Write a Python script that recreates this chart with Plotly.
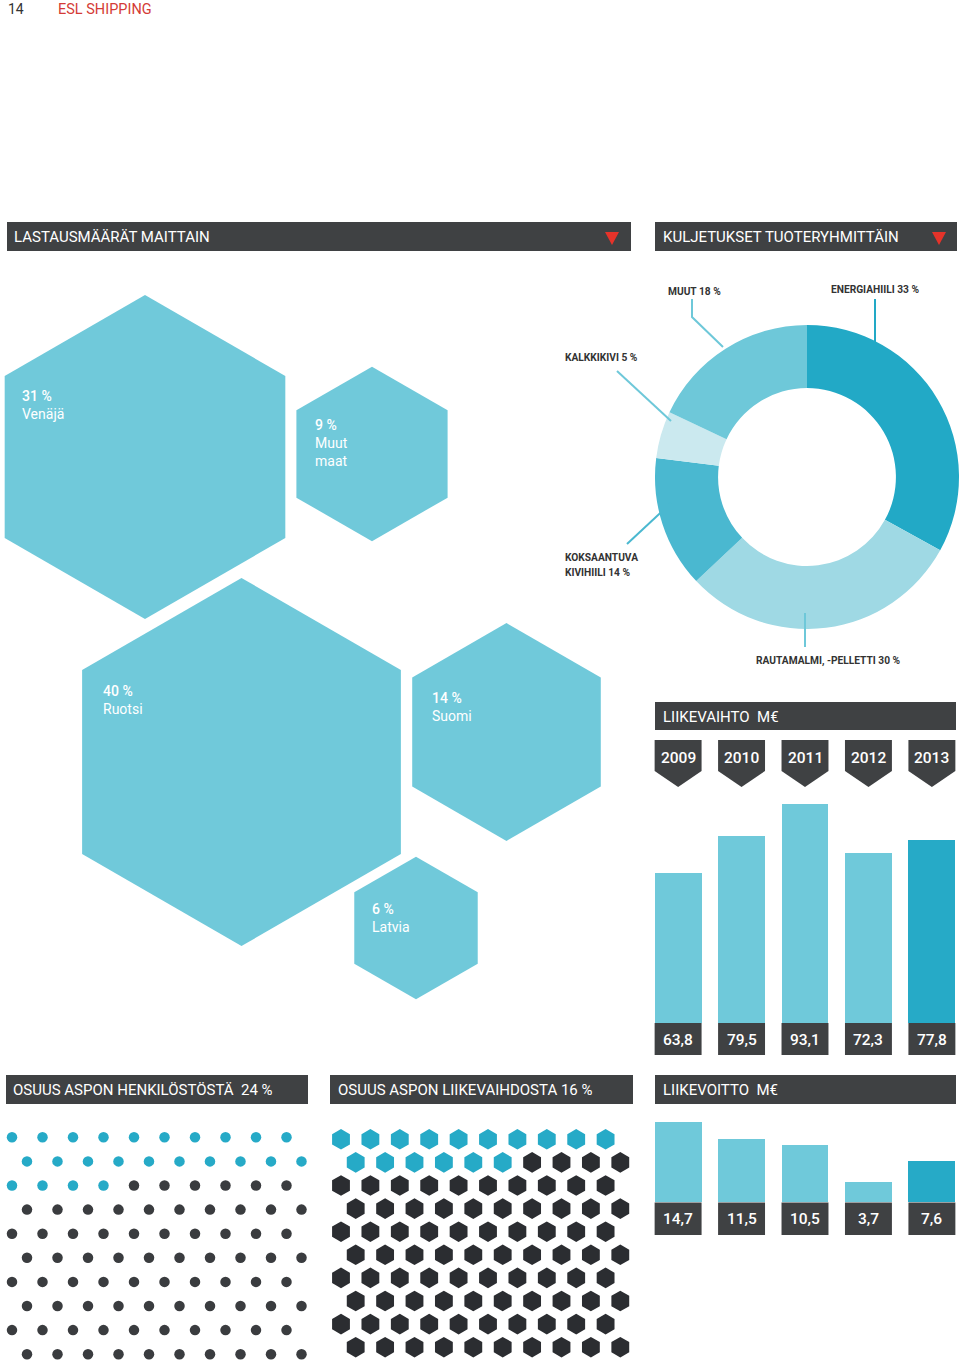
import math
import plotly.graph_objects as go

PAGE_W, PAGE_H = 960, 1366
FW, FH = PAGE_W, PAGE_H

# ---------------- data ----------------
countries = ["Venäjä", "Muut<br>maat", "Ruotsi", "Suomi", "Latvia"]
country_share = [31, 9, 40, 14, 6]

product_groups = ["ENERGIAHIILI", "RAUTAMALMI, -PELLETTI", "KOKSAANTUVA<br>KIVIHIILI", "KALKKIKIVI", "MUUT"]
product_share = [33, 30, 14, 5, 18]

years = ["2009", "2010", "2011", "2012", "2013"]
revenue = [63.8, 79.5, 93.1, 72.3, 77.8]
operating_profit = [14.7, 11.5, 10.5, 3.7, 7.6]

staff_share = 24
revenue_share = 16

# ---------------- styles / layout ----------------
DARK = "#3f4143"
HEX_BLUE = "#70c9da"
BLUE = "#26aac7"
LIGHT = "#6fc9da"
RED = "#e5332a"
FONT = "Roboto, 'Open Sans', sans-serif"

pie_colors = ["#22a9c6", "#9fd9e4", "#4ab8d0", "#cbe9ef", "#6ec8d9"]
bar_colors = [LIGHT, LIGHT, LIGHT, LIGHT, BLUE]

hex_centers = [(145, 457), (372, 454), (241.5, 762), (506.5, 732), (416, 928)]
hex_label_pos = [(20, 386), (313, 415), (101, 681), (430, 688), (370, 899)]
HEX_K = 58.2  # px of marker size per sqrt(percent)


def px(p):
    return p / FW


def py(p):
    return 1 - p / FH


fig = go.Figure()
shapes = []
annotations = []

# ---- country hexagons (area proportional to share) ----
fig.add_trace(go.Scatter(
    x=[c[0] for c in hex_centers], y=[c[1] for c in hex_centers],
    mode="markers", xaxis="x", yaxis="y",
    marker=dict(symbol="hexagon", size=[HEX_K * math.sqrt(v) for v in country_share],
                color=HEX_BLUE, opacity=1, line=dict(width=0)),
    hoverinfo="skip", showlegend=False))
for (lx, ly), name, v in zip(hex_label_pos, countries, country_share):
    annotations.append(dict(x=lx, y=ly, xref="x", yref="y", xanchor="left", yanchor="top",
                            align="left", showarrow=False,
                            text=f"<span style='font-weight:500'>{v} %</span><br>{name}",
                            font=dict(family=FONT, size=14, color="white")))

# ---- donut ----
cx, cy, R = 807, 477, 152
fig.add_trace(go.Pie(
    values=product_share, labels=product_groups, sort=False, direction="clockwise",
    rotation=0, hole=0.585, textinfo="none", hoverinfo="skip", showlegend=False,
    marker=dict(colors=pie_colors, line=dict(width=0)),
    domain=dict(x=[px(cx - R), min(1, px(cx + R))], y=[py(cy + R), py(cy - R)])))

donut_label_pos = [(829, 289), (754, 661), (563, 565), (563, 357), (666, 291)]
for (lx, ly), name, v in zip(donut_label_pos, product_groups, product_share):
    lines = f"{name} {v} %".split("<br>")
    n = len(lines)
    for i, ln in enumerate(lines):
        annotations.append(dict(x=lx, y=ly + (i - (n - 1) / 2) * 15, xref="x", yref="y",
                                xanchor="left", yanchor="middle", showarrow=False, text=ln,
                                font=dict(family=FONT, size=10.2, color="#333333", weight="bold")))

leaders = [
    ("M 875 299 L 875 360", pie_colors[0]),
    ("M 805 613 L 805 647", pie_colors[4]),
    ("M 627 544 L 671 503", pie_colors[2]),
    ("M 617 371 L 671 421", pie_colors[4]),
    ("M 692 299 L 692 317 L 723 347", pie_colors[4]),
]
for p, col in leaders:
    shapes.append(dict(type="path", path=p, xref="x", yref="y",
                       line=dict(color=col, width=2), layer="above"))

# ---- header bars ----
headers = [
    ((7, 222, 631, 251), "LASTAUSMÄÄRÄT MAITTAIN", 12, 612),
    ((655, 222, 957, 251), "KULJETUKSET TUOTERYHMITTÄIN", 661, 939),
    ((655, 702, 956, 730), "LIIKEVAIHTO\u00a0 M€", 661, None),
    ((6, 1075, 308, 1104), f"OSUUS ASPON HENKILÖSTÖSTÄ\u00a0 {staff_share} %", 11, None),
    ((330, 1075, 633, 1104), f"OSUUS ASPON LIIKEVAIHDOSTA {revenue_share} %", 336, None),
    ((655, 1075, 956, 1104), "LIIKEVOITTO\u00a0 M€", 661, None),
]
for (x0, y0, x1, y1), txt, tx, tri in headers:
    shapes.append(dict(type="rect", x0=x0, x1=x1, y0=y0, y1=y1, xref="x", yref="y",
                       fillcolor=DARK, line=dict(width=0), layer="below"))
    annotations.append(dict(x=tx, y=(y0 + y1) / 2 + 0.5, xref="x", yref="y", xanchor="left",
                            yanchor="middle", showarrow=False, text=txt,
                            font=dict(family=FONT, size=15, color="white")))
    if tri:
        shapes.append(dict(type="path", xref="x", yref="y",
                           path=f"M {tri-7} 232 L {tri+7} 232 L {tri} 245 Z",
                           fillcolor=RED, line=dict(width=0), layer="above"))

# ---- page header ----
annotations.append(dict(x=6, y=9, xref="x", yref="y", xanchor="left", yanchor="middle",
                        showarrow=False, text="14",
                        font=dict(family=FONT, size=14, color="#333333")))
annotations.append(dict(x=56, y=9, xref="x", yref="y", xanchor="left", yanchor="middle",
                        showarrow=False, text="ESL SHIPPING",
                        font=dict(family=FONT, size=14.5, color="#d43b36")))

# ---- bar charts ----
xs = list(range(len(years)))
BW = 0.74
fig.add_trace(go.Bar(x=xs, y=revenue, width=BW, marker=dict(color=bar_colors, line=dict(width=0)),
                     xaxis="x2", yaxis="y2", hoverinfo="skip", showlegend=False))
fig.add_trace(go.Bar(x=xs, y=operating_profit, width=BW,
                     marker=dict(color=bar_colors, line=dict(width=0)),
                     xaxis="x3", yaxis="y3", hoverinfo="skip", showlegend=False))

h = BW / 2
for i, (yr, rv, op) in enumerate(zip(years, revenue, operating_profit)):
    shapes.append(dict(type="path", xref="x2", yref="paper",
                       path=(f"M {i-h} {py(740)} L {i+h} {py(740)} L {i+h} {py(771)} "
                             f"L {i} {py(787)} L {i-h} {py(771)} Z"),
                       fillcolor=DARK, line=dict(width=0), layer="above"))
    annotations.append(dict(x=i, y=py(757.5), xref="x2", yref="paper", showarrow=False,
                            text=yr, xanchor="center", yanchor="middle",
                            font=dict(family=FONT, size=15.5, color="white", weight=500)))
    shapes.append(dict(type="rect", xref="x2", yref="paper", x0=i - h, x1=i + h,
                       y0=py(1055), y1=py(1023), fillcolor=DARK, line=dict(width=0),
                       layer="above"))
    annotations.append(dict(x=i, y=py(1039.5), xref="x2", yref="paper", showarrow=False,
                            text=f"{rv:.1f}".replace(".", ","), xanchor="center", yanchor="middle",
                            font=dict(family=FONT, size=15.5, color="white", weight=500)))
    shapes.append(dict(type="rect", xref="x3", yref="paper", x0=i - h, x1=i + h,
                       y0=py(1235), y1=py(1202.5), fillcolor=DARK, line=dict(width=0),
                       layer="above"))
    annotations.append(dict(x=i, y=py(1219), xref="x3", yref="paper", showarrow=False,
                            text=f"{op:.1f}".replace(".", ","), xanchor="center", yanchor="middle",
                            font=dict(family=FONT, size=15.5, color="white", weight=500)))

# ---- share patterns ----
cx_, cy_, cc_ = [], [], []
for r in range(10):
    for c in range(10):
        cx_.append(12 + c * 30.5 + (r % 2) * 15)
        cy_.append(1137.3 + r * 24.1)
        cc_.append(BLUE if r * 10 + c < staff_share else "#3a3c3f")
fig.add_trace(go.Scatter(x=cx_, y=cy_, mode="markers", xaxis="x", yaxis="y",
                         marker=dict(symbol="circle", size=10.5, color=cc_, opacity=1,
                                     line=dict(width=0)),
                         hoverinfo="skip", showlegend=False))

hx_, hy_, hc_ = [], [], []
for r in range(10):
    for c in range(10):
        hx_.append(341 + c * 29.4 + (r % 2) * 14.7)
        hy_.append(1139.3 + r * 23.1)
        hc_.append(BLUE if r * 10 + c < revenue_share else "#2b2d31")
fig.add_trace(go.Scatter(x=hx_, y=hy_, mode="markers", xaxis="x", yaxis="y",
                         marker=dict(symbol="hexagon", size=20.6, color=hc_, opacity=1,
                                     line=dict(width=0)),
                         hoverinfo="skip", showlegend=False))

# ---------------- layout ----------------
hidden = dict(visible=False, fixedrange=True, showgrid=False, zeroline=False)
bar_x_dom = [px(654), px(956)]
REV_MAX = 100.0
PROF_MAX = 16.0
fig.update_layout(
    width=FW, height=FH, margin=dict(l=0, r=0, t=0, b=0), autosize=False,
    paper_bgcolor="white", plot_bgcolor="rgba(0,0,0,0)",
    font=dict(family=FONT),
    xaxis=dict(range=[0, PAGE_W], domain=[0, 1], **hidden),
    yaxis=dict(range=[PAGE_H, 0], domain=[0, 1], **hidden),
    xaxis2=dict(range=[-0.38, 4.38], domain=bar_x_dom, anchor="y2", **hidden),
    yaxis2=dict(range=[0, REV_MAX], domain=[py(1023), py(1023 - REV_MAX * 2.352)],
                anchor="x2", **hidden),
    xaxis3=dict(range=[-0.38, 4.38], domain=bar_x_dom, anchor="y3", **hidden),
    yaxis3=dict(range=[0, PROF_MAX], domain=[py(1202.5), py(1202.5 - PROF_MAX * 5.44)],
                anchor="x3", **hidden),
    shapes=shapes, annotations=annotations, bargap=0,
)

fig.write_html(
    "out.html",
    config={"responsive": False, "displayModeBar": False},
    post_script="document.body.style.margin='0';document.body.style.overflow='hidden';",
)
